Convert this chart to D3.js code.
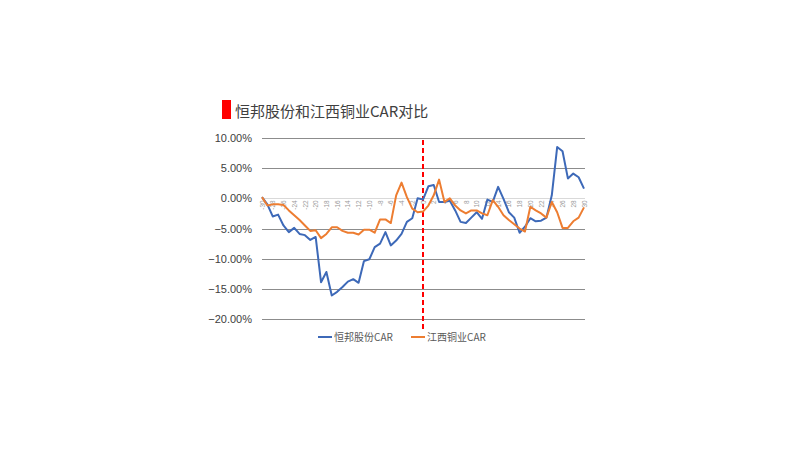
<!DOCTYPE html>
<html>
<head>
<meta charset="utf-8">
<script src="https://cdn.jsdelivr.net/npm/d3@7"></script>
<style>
  body { margin: 0; background: #ffffff; }
</style>
</head>
<body>
<div id="chart-area"></div>
<script>
// event window days, -30 .. 30
var days = d3.range(-30, 31);

var hengbangCar = [
     0.2, -1.0, -3.0, -2.7, -4.5, -5.6, -4.9, -5.9, -6.1, -6.9,
    -6.4, -13.9, -12.2, -16.1, -15.5, -14.7, -13.8, -13.4, -14.0, -10.4,
   -10.1, -8.1, -7.5, -5.6, -7.8, -7.0, -5.9, -3.9, -3.3, 0.0,
    -0.2,  2.0,  2.2, -0.6, -0.6, -0.4, -2.0, -3.9, -4.1, -3.2,
    -2.3, -3.4, -0.2, -0.6,  1.9, -0.1, -2.3, -3.2, -5.7, -4.7,
    -3.3, -3.8, -3.7, -3.2,  0.5,  8.5,  7.8,  3.3,  4.1,  3.5,
     1.6
];

var jiangxiCar = [
     0.2, -1.2, -1.0, -1.0, -1.1, -2.0, -2.8, -3.6, -4.5, -5.4,
    -5.3, -6.6, -5.9, -4.8, -4.8, -5.4, -5.7, -5.7, -6.0, -5.2,
    -5.2, -5.7, -3.5, -3.5, -4.1,  0.5,  2.6,  0.2, -1.7, -2.3,
    -2.2, -1.2,  0.5,  3.1, -0.6,  0.0, -1.2, -2.0, -2.5, -2.0,
    -2.0, -2.5, -2.8, -0.3, -1.4, -2.8, -3.6, -4.3, -5.0, -5.5,
    -1.4, -2.0, -2.5, -3.2, -0.6, -2.3, -4.9, -4.9, -3.8, -3.2,
    -1.5
];

var yTicks = [10, 5, 0, -5, -10, -15, -20];
var xTickLabels = d3.range(-30, 31, 2);

var seriesNames = ["恒邦股份CAR", "江西铜业CAR"];
var seriesColors = ["#3d69b8", "#ed7d31"];

var svgWidth  = 800;
var svgHeight = 450;
var plot = { left: 262, right: 584, top: 138, bottom: 319 };

var svg = d3.select("#chart-area")
            .append("svg")
            .attr("width", svgWidth)
            .attr("height", svgHeight);

var x = d3.scaleLinear()
          .domain([-30, 30])
          .range([plot.left, plot.right]);

var y = d3.scaleLinear()
          .domain([-20, 10])
          .range([plot.bottom, plot.top]);

// title with red marker
svg.append("rect")
   .attr("x", 222)
   .attr("y", 100)
   .attr("width", 9)
   .attr("height", 19)
   .attr("fill", "#ff0000");

svg.append("text")
   .attr("x", 235)
   .attr("y", 117)
   .attr("font-family", "Noto Sans CJK SC")
   .attr("font-size", "15px")
   .attr("fill", "#404040")
   .text("恒邦股份和江西铜业CAR对比");

// horizontal grid lines
svg.append("g")
   .selectAll("line")
   .data(yTicks)
   .enter()
   .append("line")
   .attr("x1", plot.left)
   .attr("x2", plot.right + 1)
   .attr("y1", (d) => Math.round(y(d)) + 0.5)
   .attr("y2", (d) => Math.round(y(d)) + 0.5)
   .attr("stroke", (d) => d === 0 ? "#d9d9d9" : "#8c8c8c")
   .attr("stroke-width", 1);

// y axis labels
var yAxisCall = d3.axisLeft(y)
                  .tickValues(yTicks)
                  .tickSize(0)
                  .tickPadding(10)
                  .tickFormat((d) => d3.format(".2f")(d) + "%");

svg.append("g")
   .attr("class", "y-axis")
   .attr("transform", "translate(" + plot.left + ",0)")
   .call(yAxisCall)
   .call((g) => g.select(".domain").remove())
   .selectAll("text")
       .attr("font-family", "Liberation Sans")
       .attr("font-size", "11px")
       .attr("fill", "#404040");

// x axis labels sitting on the zero line
var xAxisCall = d3.axisBottom(x)
                  .tickValues(xTickLabels)
                  .tickSize(0)
                  .tickFormat((d) => d);

svg.append("g")
   .attr("class", "x-axis")
   .attr("transform", "translate(0," + y(0) + ")")
   .call(xAxisCall)
   .call((g) => g.select(".domain").remove())
   .selectAll("text")
       .attr("font-family", "Liberation Sans")
       .attr("font-size", "6.5px")
       .attr("fill", "#999999")
       .attr("text-anchor", "end")
       .attr("dy", "0.32em")
       .attr("y", 0)
       .attr("x", -2)
       .attr("transform", "rotate(-90)");

// event day marker
svg.append("line")
   .attr("x1", x(0))
   .attr("x2", x(0))
   .attr("y1", 140)
   .attr("y2", 330)
   .attr("stroke", "#ff0000")
   .attr("stroke-width", 2)
   .attr("stroke-dasharray", "5,3");

// series lines
var line = d3.line()
             .x((d, i) => x(days[i]))
             .y((d) => y(d));

[hengbangCar, jiangxiCar].forEach((values, i) => {
    svg.append("path")
       .datum(values)
       .attr("d", line)
       .attr("fill", "none")
       .attr("stroke", seriesColors[i])
       .attr("stroke-width", 2)
       .attr("stroke-linejoin", "round");
});

// legend
var legend = svg.append("g")
                .attr("transform", "translate(318, 337)");

var legendX = [0, 93];

seriesNames.forEach((name, i) => {
    legend.append("line")
          .attr("x1", legendX[i])
          .attr("x2", legendX[i] + 14)
          .attr("y1", 0)
          .attr("y2", 0)
          .attr("stroke", seriesColors[i])
          .attr("stroke-width", 2);

    legend.append("text")
          .attr("x", legendX[i] + 16)
          .attr("y", 3.5)
          .attr("font-family", "Noto Sans CJK SC")
          .attr("font-size", "10px")
          .attr("fill", "#595959")
          .text(name);
});
</script>
</body>
</html>
